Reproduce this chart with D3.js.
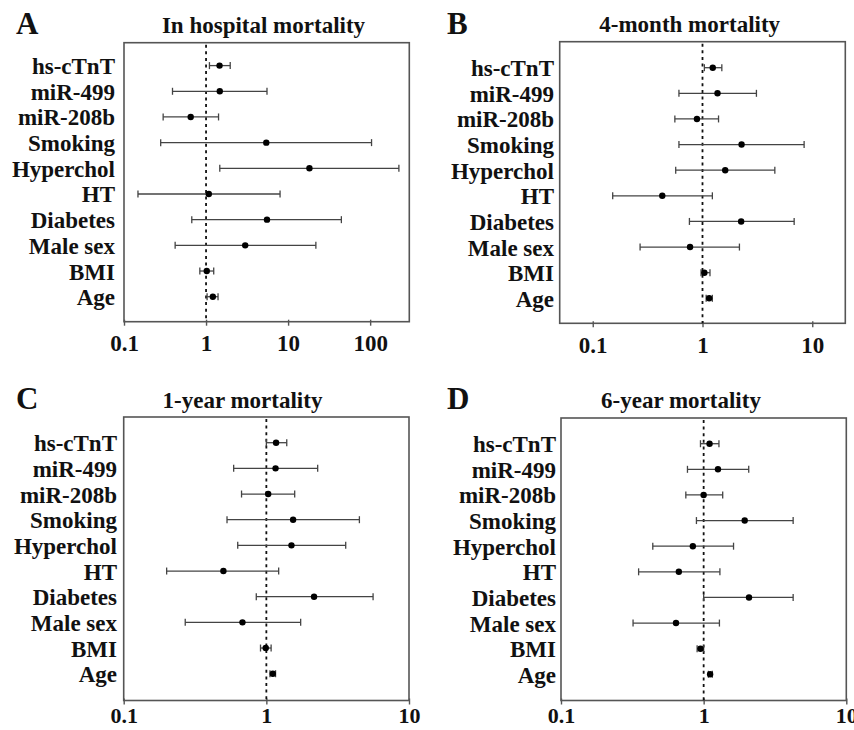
<!DOCTYPE html>
<html>
<head>
<meta charset="utf-8">
<script src="https://cdn.jsdelivr.net/npm/d3@7"></script>
<style>
  html, body { margin: 0; padding: 0; background: #fff; }
  svg { display: block; }
  text { font-family: "Liberation Serif", "Times New Roman", serif; font-weight: bold; fill: #111; }
</style>
</head>
<body>
<script>
// ---------- DATA ----------
const categories = ["hs-cTnT", "miR-499", "miR-208b", "Smoking", "Hyperchol", "HT", "Diabetes", "Male sex", "BMI", "Age"];

const panelLetters = ["A", "B", "C", "D"];
const panelTitles = ["In hospital mortality", "4-month mortality", "1-year mortality", "6-year mortality"];

// odds ratios with 95% CI
const orA = [1.46, 1.47, 0.65, 5.42, 18.2, 1.08, 5.53, 3.0, 1.02, 1.21];
const loA = [1.10, 0.39, 0.30, 0.28, 1.47, 0.148, 0.67, 0.42, 0.84, 1.03];
const hiA = [1.97, 5.53, 1.42, 104, 224, 7.98, 44.6, 21.8, 1.24, 1.40];

const orB = [1.24, 1.37, 0.89, 2.27, 1.61, 0.43, 2.25, 0.77, 1.04, 1.15];
const loB = [1.04, 0.61, 0.56, 0.61, 0.57, 0.152, 0.76, 0.27, 0.97, 1.08];
const hiB = [1.50, 3.10, 1.40, 8.43, 4.56, 1.23, 6.84, 2.17, 1.17, 1.23];

const orC = [1.17, 1.16, 1.03, 1.54, 1.50, 0.50, 2.16, 0.68, 0.99, 1.11];
const loC = [1.00, 0.59, 0.67, 0.53, 0.63, 0.20, 0.85, 0.27, 0.91, 1.06];
const hiC = [1.39, 2.29, 1.58, 4.49, 3.60, 1.22, 5.60, 1.74, 1.08, 1.16];

const orD = [1.10, 1.26, 1.00, 1.94, 0.84, 0.67, 2.08, 0.64, 0.95, 1.11];
const loD = [0.95, 0.77, 0.75, 0.89, 0.44, 0.35, 1.00, 0.32, 0.90, 1.08];
const hiD = [1.28, 2.07, 1.36, 4.24, 1.62, 1.30, 4.24, 1.29, 1.00, 1.15];

// axis ticks
const ticksA = [0.1, 1, 10, 100];
const tickLabelsA = ["0.1", "1", "10", "100"];
const ticksBCD = [0.1, 1, 10];
const tickLabelsBCD = ["0.1", "1", "10"];

// x-domains
const domainA = [0.1, 300];
const domainB = [0.05, 20];
const domainCD = [0.1, 10];

// ---------- LAYOUT ----------
const W = 854, H = 730;
const panels = [
  { or: orA, lo: loA, hi: hiA, ticks: ticksA, tl: tickLabelsA, dom: domainA,
    box: [124, 409.3, 42.7, 321.7], rows: [65.6, 296.7], labelX: 115, pad: 9, tfs: 23,
    letter: [16, 34], title: [263.5, 33] },
  { or: orB, lo: loB, hi: hiB, ticks: ticksBCD, tl: tickLabelsBCD, dom: domainB,
    box: [559.7, 845.3, 41.7, 323.3], rows: [67.7, 298.3], labelX: 554, pad: 9, tfs: 23,
    letter: [447, 33.5], title: [689.7, 31.7] },
  { or: orC, lo: loC, hi: hiC, ticks: ticksBCD, tl: tickLabelsBCD, dom: domainCD,
    box: [123.7, 409, 417, 700.5], rows: [442.7, 673.7], labelX: 117, pad: 3, tfs: 22,
    letter: [16, 409.3], title: [242.5, 408.3] },
  { or: orD, lo: loD, hi: hiD, ticks: ticksBCD, tl: tickLabelsBCD, dom: domainCD,
    box: [561, 846.3, 418, 700.5], rows: [443.7, 674.3], labelX: 556, pad: 3, tfs: 22,
    letter: [447, 409], title: [681, 408.3] }
];

const svg = d3.select("body").append("svg").attr("width", W).attr("height", H);

panels.forEach((p, k) => {
  const [x0, x1, y0, y1] = p.box;
  const x = d3.scaleLog().domain(p.dom).range([x0, x1]);
  const y = d3.scaleLinear().domain([0, categories.length - 1]).range(p.rows);
  const g = svg.append("g");

  // panel letter
  g.append("text").attr("x", p.letter[0]).attr("y", p.letter[1])
    .style("font-size", "31px").text(panelLetters[k]);
  // title
  g.append("text").attr("x", p.title[0]).attr("y", p.title[1])
    .attr("text-anchor", "middle").style("font-size", "23px").text(panelTitles[k]);

  // box
  g.append("rect").attr("x", x0).attr("y", y0).attr("width", x1 - x0).attr("height", y1 - y0)
    .attr("fill", "none").attr("stroke", "#555").attr("stroke-width", 1.6);

  // axis
  const axis = d3.axisBottom(x).tickValues(p.ticks)
    .tickFormat((d, i) => p.tl[i]).tickSize(4).tickPadding(p.pad);
  const ag = g.append("g").attr("transform", `translate(0,${y1})`).call(axis);
  ag.select(".domain").remove();
  ag.selectAll(".tick line").attr("stroke", "#555").attr("stroke-width", 1.4).attr("y1", -2);
  ag.selectAll(".tick text").attr("fill", "#111")
    .style("font-family", '"Liberation Serif", "Times New Roman", serif')
    .style("font-weight", "bold").style("font-size", p.tfs + "px");

  // reference line at 1
  g.append("line").attr("x1", x(1)).attr("x2", x(1)).attr("y1", y0 + 2).attr("y2", y1)
    .attr("stroke", "#111").attr("stroke-width", 1.8).attr("stroke-dasharray", "3,3.6");

  // row labels
  g.selectAll(".lab").data(categories).enter().append("text")
    .attr("x", p.labelX).attr("y", (d, i) => y(i) + 8.5)
    .attr("text-anchor", "end").style("font-size", "23px").text(d => d);

  // CI lines
  const rows = categories.map((c, i) => ({ c, i, or: p.or[i], lo: p.lo[i], hi: p.hi[i] }));
  const ci = g.selectAll(".ci").data(rows).enter().append("g");
  ci.append("line").attr("x1", d => x(d.lo)).attr("x2", d => x(d.hi))
    .attr("y1", d => y(d.i)).attr("y2", d => y(d.i))
    .attr("stroke", "#444").attr("stroke-width", 1.3);
  ci.append("line").attr("x1", d => x(d.lo)).attr("x2", d => x(d.lo))
    .attr("y1", d => y(d.i) - 3.5).attr("y2", d => y(d.i) + 3.5)
    .attr("stroke", "#444").attr("stroke-width", 1.3);
  ci.append("line").attr("x1", d => x(d.hi)).attr("x2", d => x(d.hi))
    .attr("y1", d => y(d.i) - 3.5).attr("y2", d => y(d.i) + 3.5)
    .attr("stroke", "#444").attr("stroke-width", 1.3);
  ci.append("circle").attr("cx", d => x(d.or)).attr("cy", d => y(d.i)).attr("r", 3.2)
    .attr("fill", "#000");
});
</script>
</body>
</html>
